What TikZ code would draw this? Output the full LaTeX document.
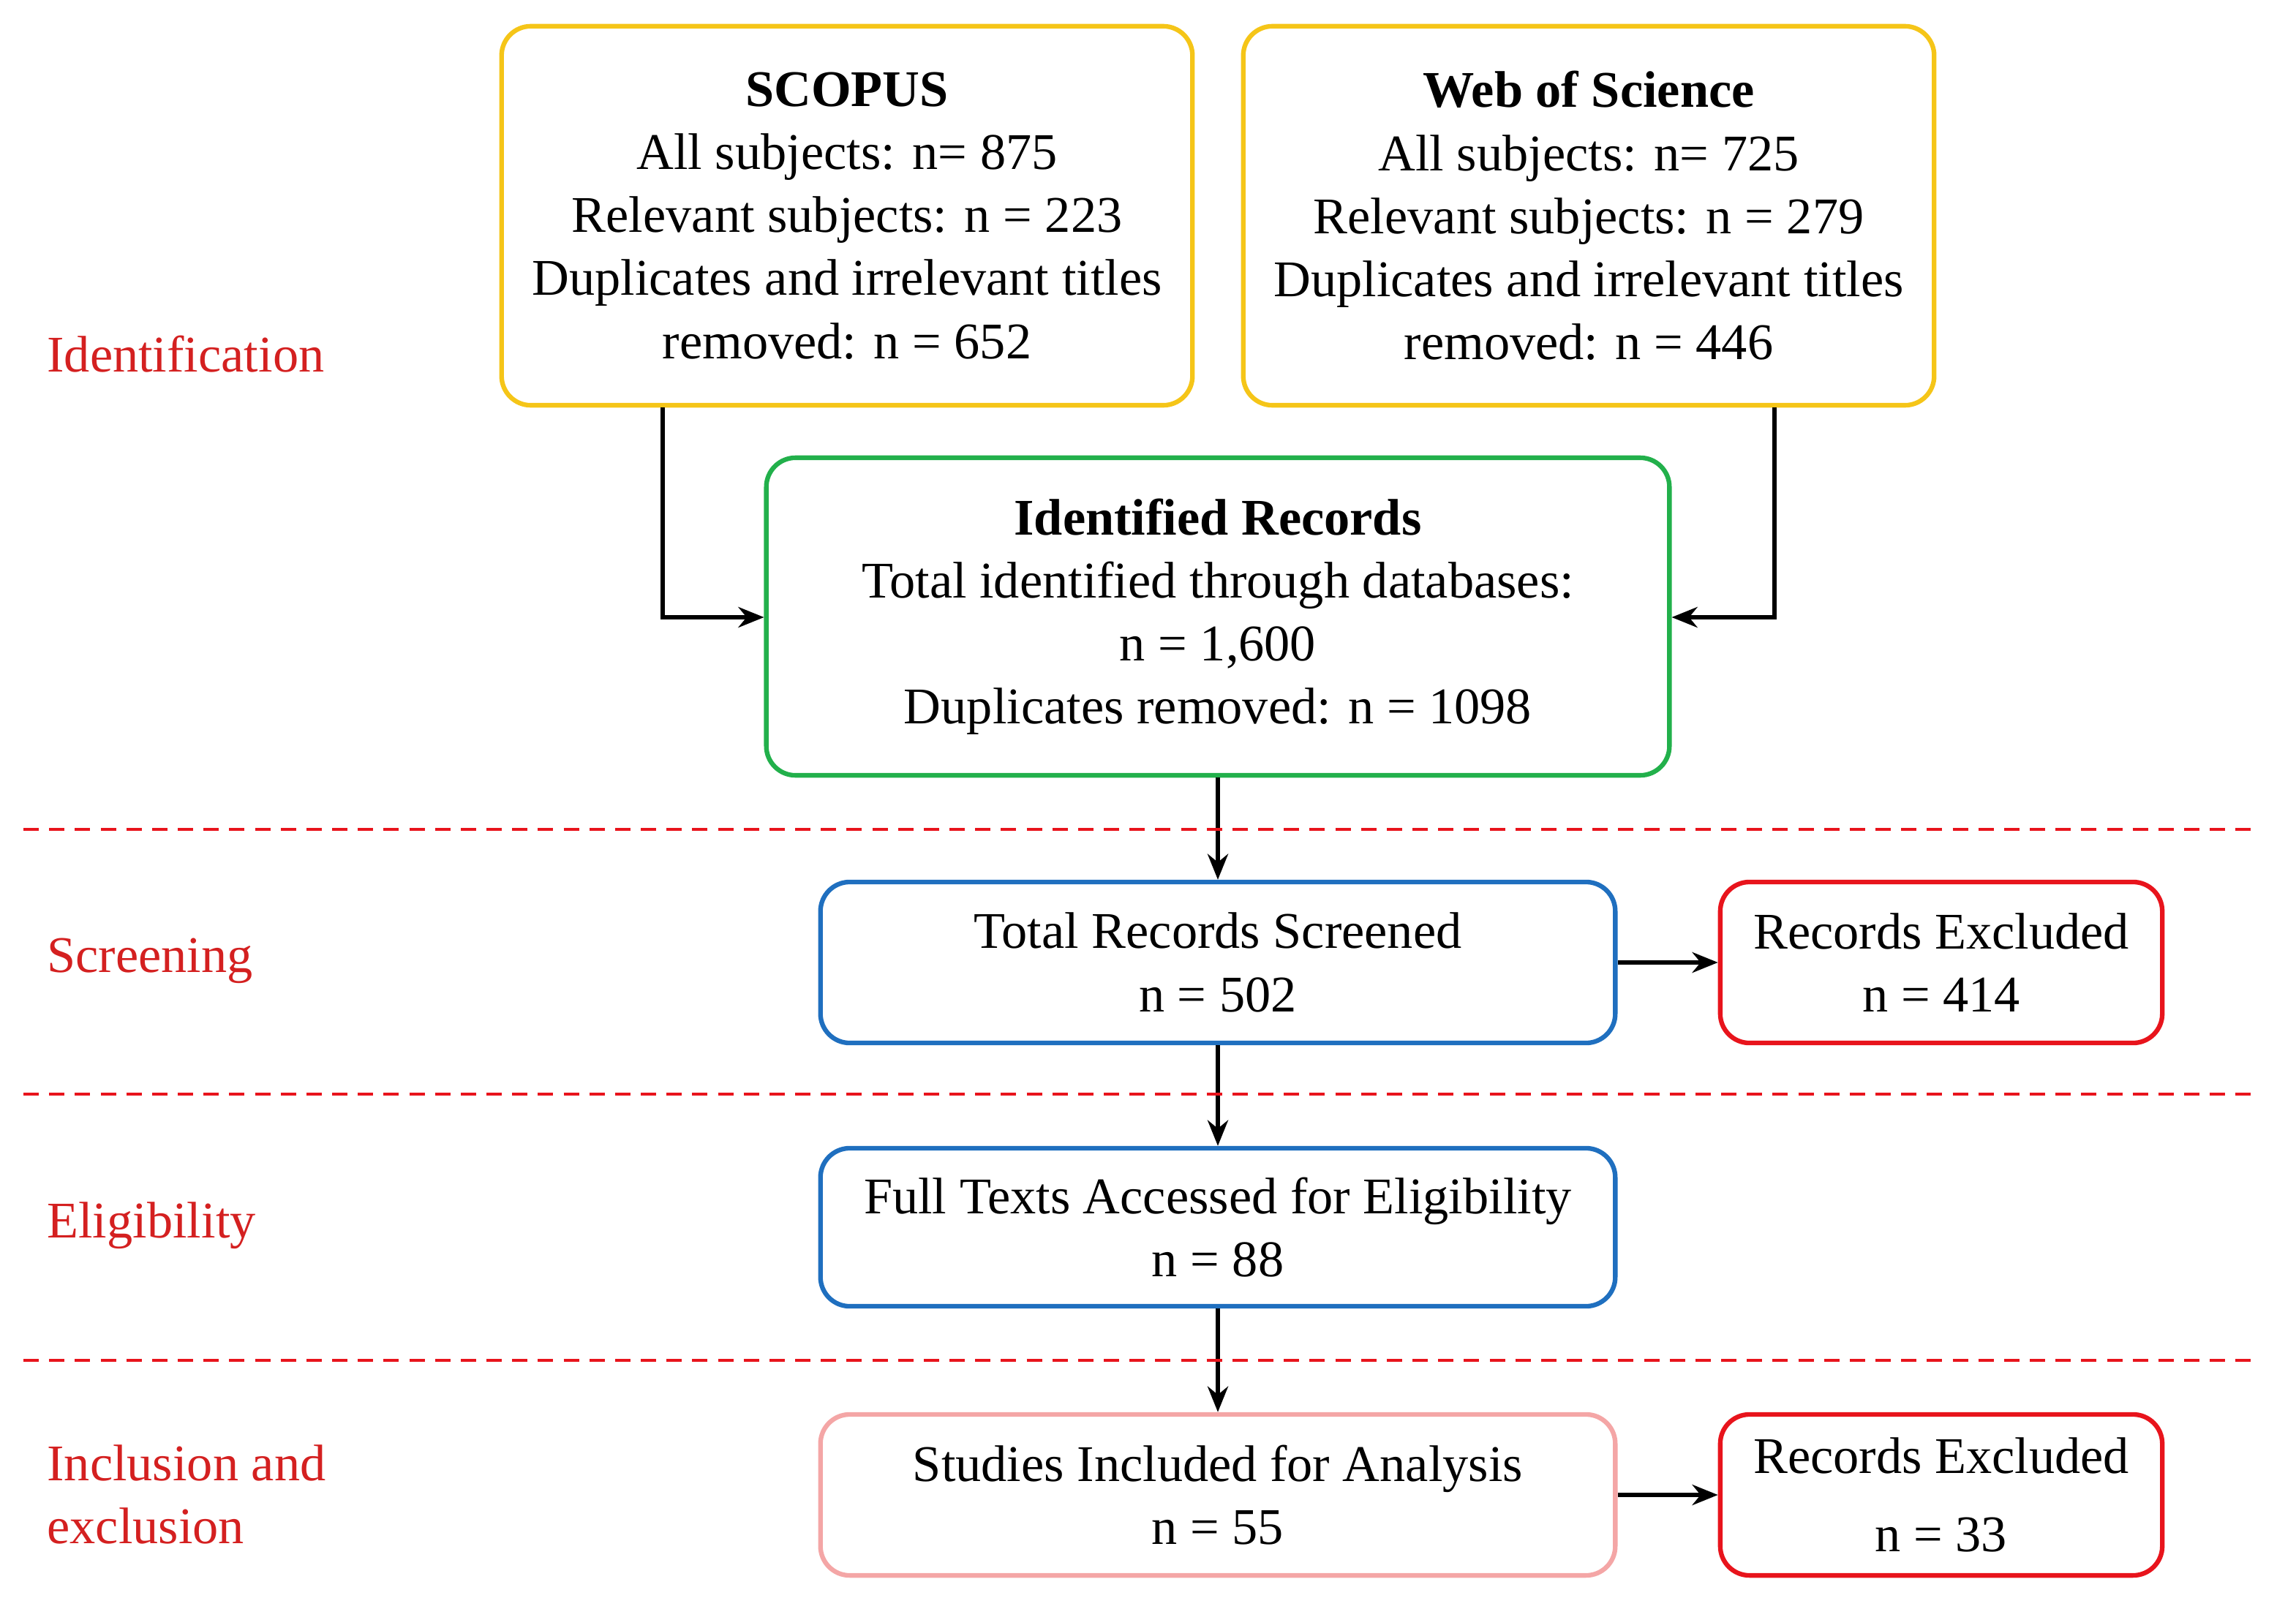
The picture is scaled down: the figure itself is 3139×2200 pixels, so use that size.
\documentclass[tikz,border=0pt]{standalone}
\usepackage{fontspec}
\setmainfont{Liberation Serif}
\usetikzlibrary{arrows.meta}
\definecolor{cy}{HTML}{F5C518}
\definecolor{cg}{HTML}{22B04B}
\definecolor{cb}{HTML}{1F6FBF}
\definecolor{cr}{HTML}{E8141C}
\definecolor{cp}{HTML}{F4A6A6}
\definecolor{lab}{HTML}{D42020}
\begin{document}
\begin{tikzpicture}[x=0.01cm,y=-0.01cm,
  box/.style={draw, line width=1.8pt, rounded corners=0.4cm, align=center, inner sep=0pt,
     font=\fontsize{20}{24.5}\selectfont},
  lbl/.style={text=lab, anchor=west, align=left, font=\fontsize{20}{24.5}\selectfont},
  arr/.style={line width=1.5pt, -{Stealth[length=10pt,width=8pt]}},
  dl/.style={draw=cr, line width=1.2pt, dash pattern=on 6pt off 4pt}]
\useasboundingbox (0,0) rectangle (3139,2200);
\node[box,draw=cy,minimum width=9.44cm,minimum height=5.18cm] (sc) at (1158,295)
 {\textbf{SCOPUS}\\All subjects: n= 875\\Relevant subjects: n = 223\\Duplicates and irrelevant titles\\removed: n = 652};
\node[box,draw=cy,minimum width=9.44cm,minimum height=5.18cm] (ws) at (2172,295)
 {\textbf{Web of Science}\\All subjects: n= 725\\Relevant subjects: n = 279\\Duplicates and irrelevant titles\\removed: n = 446};
\node[box,draw=cg,minimum width=12.34cm,minimum height=4.34cm] (id) at (1665,843)
 {\textbf{Identified Records}\\Total identified through databases:\\n = 1,600\\Duplicates removed: n = 1098};
\node[box,draw=cb,minimum width=10.86cm,minimum height=2.2cm] (ts) at (1665,1316)
 {Total Records Screened\\n = 502};
\node[box,draw=cr,minimum width=6.04cm,minimum height=2.2cm] (e1) at (2654,1316)
 {Records Excluded\\n = 414};
\node[box,draw=cb,minimum width=10.86cm,minimum height=2.16cm] (ft) at (1665,1678)
 {Full Texts Accessed for Eligibility\\n = 88};
\node[box,draw=cp,minimum width=10.86cm,minimum height=2.2cm] (si) at (1665,2044)
 {Studies Included for Analysis\\n = 55};
\node[box,draw=cr,minimum width=6.04cm,minimum height=2.2cm] (e2) at (2654,2044)
 {Records Excluded\\[6pt]n = 33};
\coordinate (c1) at (906,844);
\coordinate (c2) at (2426,844);
\draw[arr] (sc.south -| c1) |- (id.west |- c1);
\draw[arr] (ws.south -| c2) |- (id.east |- c2);
\draw[arr] (id) -- (ts);
\draw[arr] (ts) -- (ft);
\draw[arr] (ft) -- (si);
\draw[arr] (ts) -- (e1);
\draw[arr] (si) -- (e2);
\draw[dl] (32,1134) -- (3080,1134);
\draw[dl] (32,1496) -- (3080,1496);
\draw[dl] (32,1860) -- (3080,1860);
\node[lbl] (l1) at (52,484) {Identification};
\node[lbl] (l2) at (52,1314) {Screening};
\node[lbl] (l3) at (52,1676) {Eligibility};
\node[lbl] (l4) at (52,2043) {Inclusion and\\exclusion};
\end{tikzpicture}
\end{document}
